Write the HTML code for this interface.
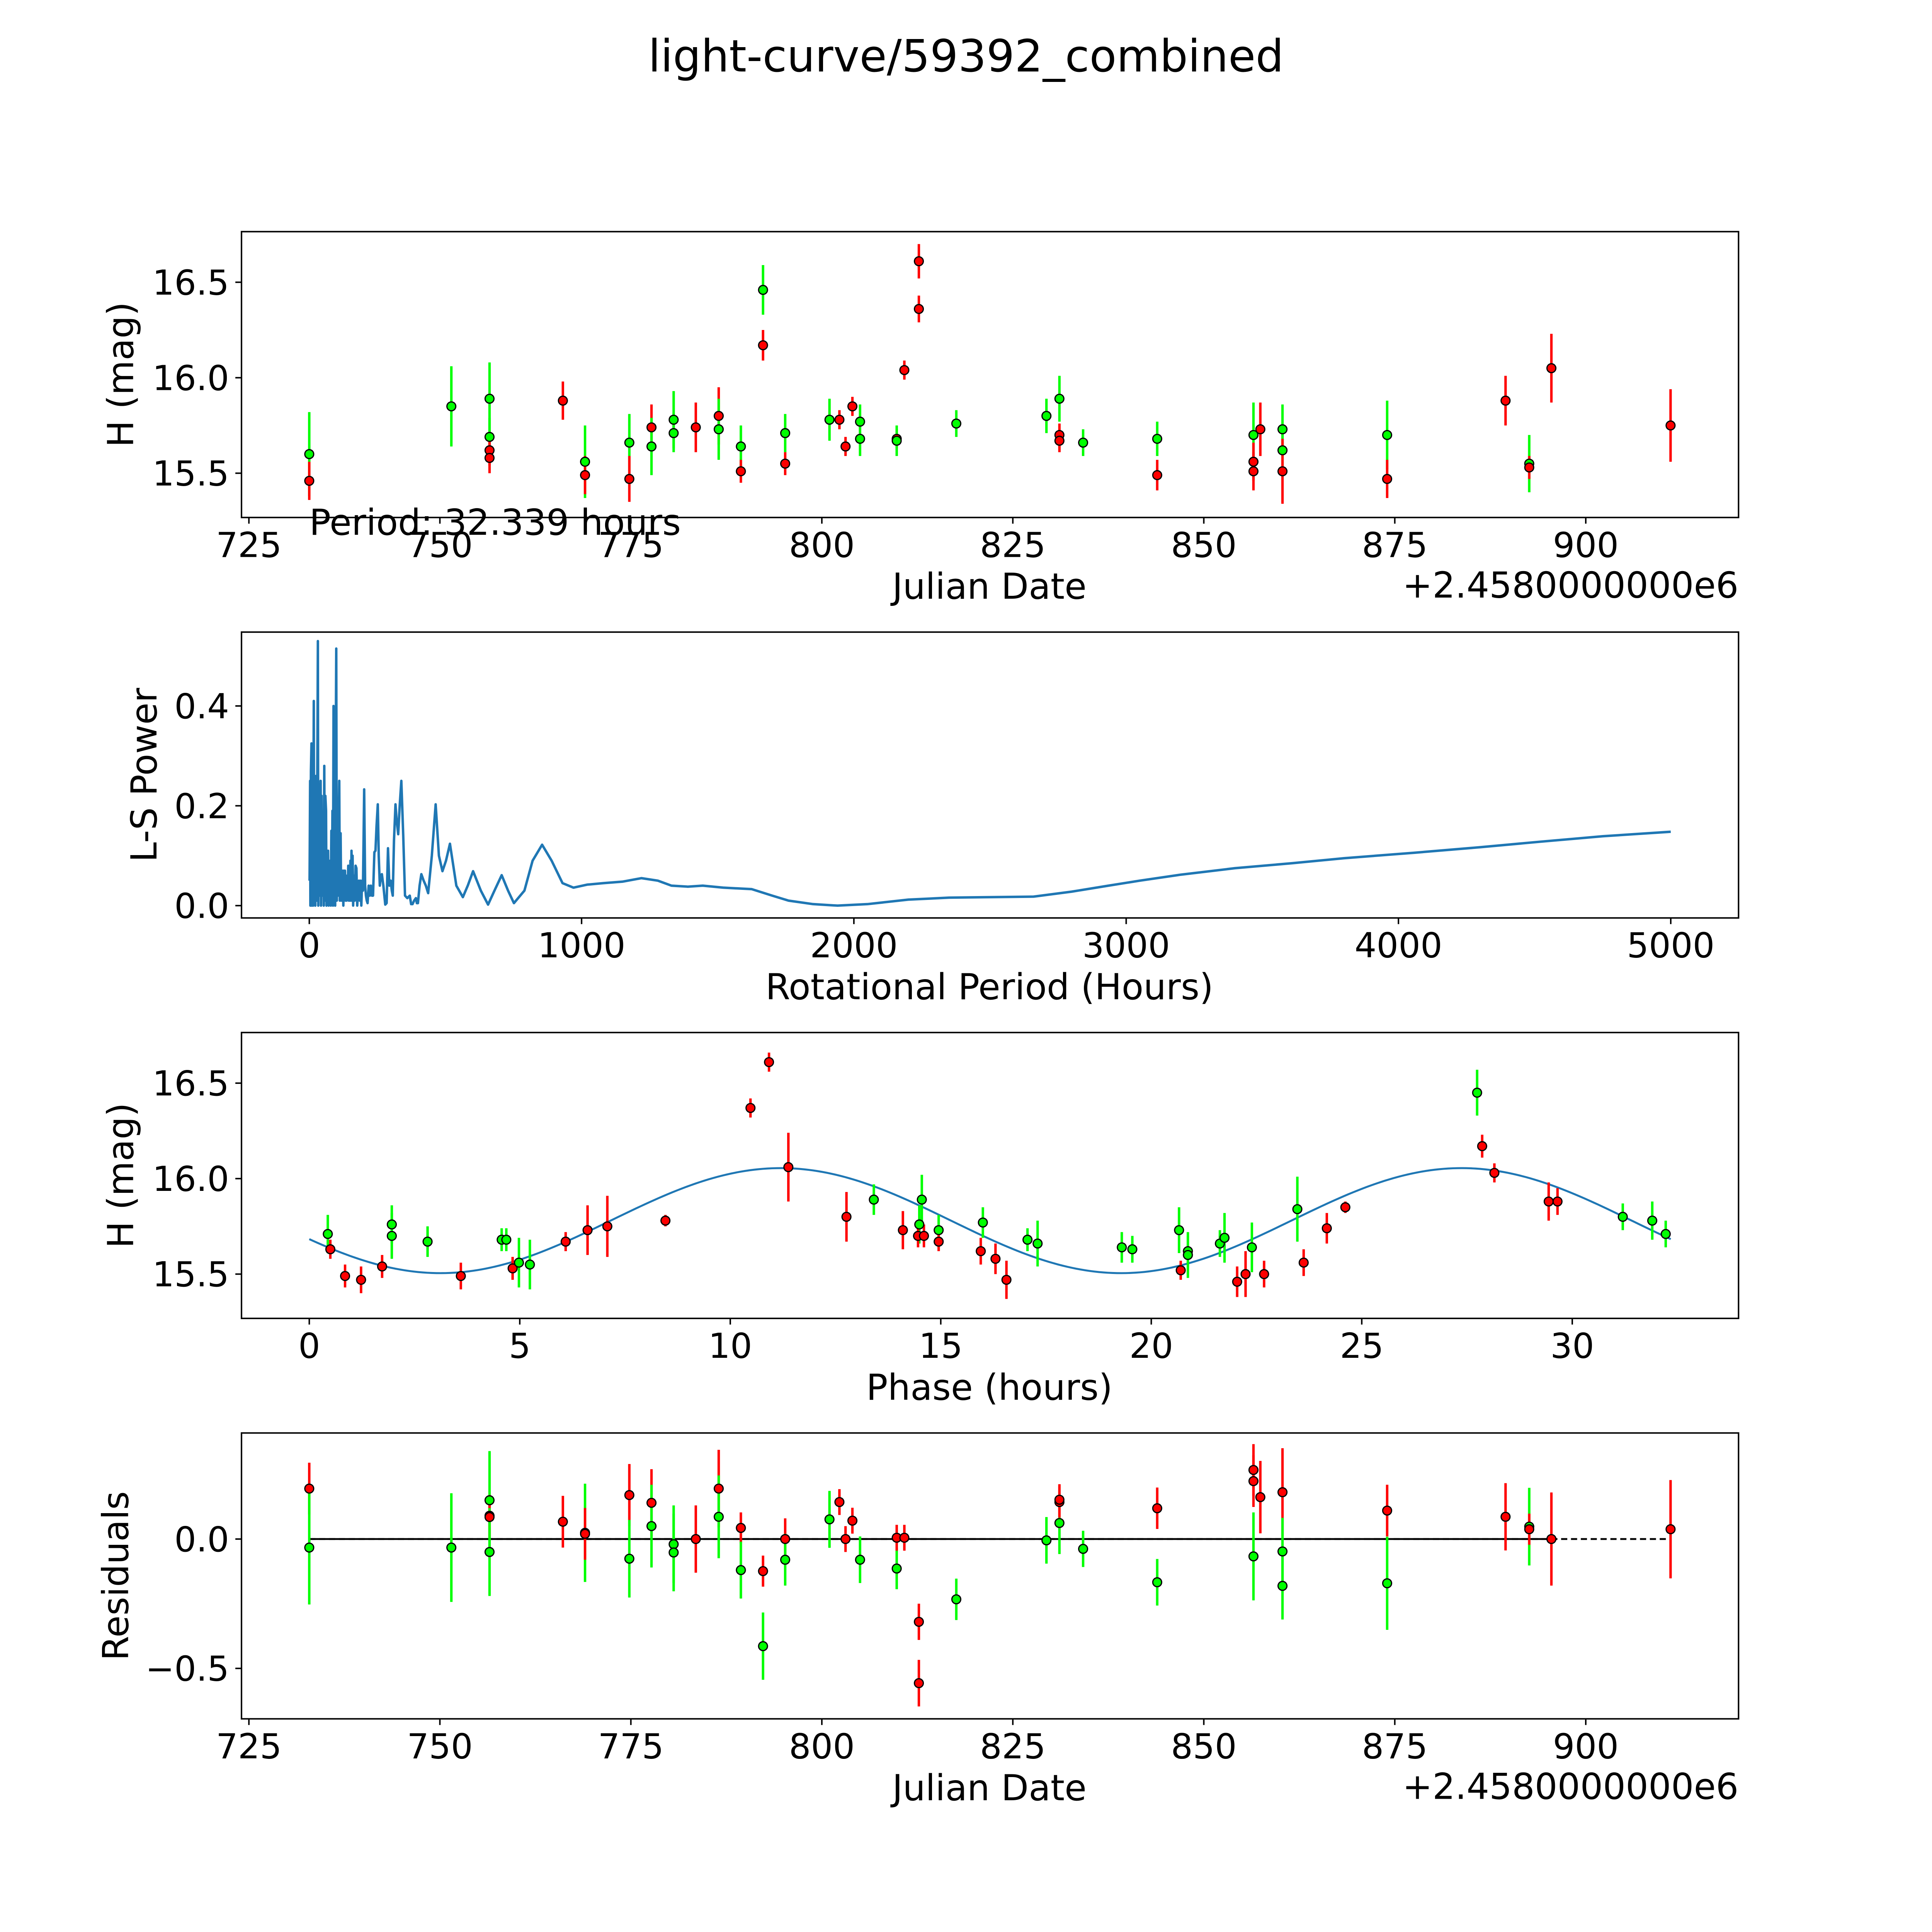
<!DOCTYPE html>
<html><head><meta charset="utf-8"><style>
html,body{margin:0;padding:0;background:#fff;overflow:hidden;width:100%;height:100%;}
svg{display:block;position:fixed;left:0;top:0;width:100vw;height:100vh;font-family:"DejaVu Sans","Liberation Sans",sans-serif;}
</style></head><body>
<svg id="fig" xmlns="http://www.w3.org/2000/svg" viewBox="0 0 1568 1568" preserveAspectRatio="none">
<rect width="1568" height="1568" fill="#fff"/>
<text x="784" y="58" font-size="36" text-anchor="middle">light-curve/59392_combined</text>
</svg>
<script>
// ---- Panel 1: light curve data ----
const jd   = [732.9,732.9,751.5,756.5,756.5,756.5,756.5,766.1,769.0,769.0,774.8,774.8,777.7,777.7,780.6,780.6,783.5,786.5,786.5,789.4,789.4,792.3,792.3,795.2,795.2,801.0,802.3,803.1,804.0,805.0,805.0,809.8,809.8,810.8,812.7,812.7,817.6,829.4,831.1,831.1,831.1,834.2,843.9,843.9,856.5,856.5,856.5,857.4,860.3,860.3,860.3,874.0,874.0,889.5,892.6,892.6,895.5,911.1];
const hmag = [15.60,15.46,15.85,15.89,15.69,15.62,15.58,15.88,15.56,15.49,15.66,15.47,15.74,15.64,15.78,15.71,15.74,15.80,15.73,15.64,15.51,16.46,16.17,15.71,15.55,15.78,15.78,15.64,15.85,15.77,15.68,15.68,15.67,16.04,16.36,16.61,15.76,15.80,15.89,15.70,15.67,15.66,15.68,15.49,15.70,15.56,15.51,15.73,15.73,15.62,15.51,15.70,15.47,15.88,15.55,15.53,16.05,15.75];
const herr = [0.22,0.10,0.21,0.19,0.10,0.08,0.08,0.10,0.19,0.10,0.15,0.12,0.12,0.15,0.15,0.10,0.13,0.15,0.16,0.11,0.06,0.13,0.08,0.10,0.06,0.11,0.05,0.05,0.05,0.09,0.09,0.05,0.08,0.05,0.07,0.09,0.07,0.09,0.12,0.06,0.06,0.07,0.09,0.08,0.17,0.10,0.10,0.14,0.13,0.13,0.17,0.18,0.10,0.13,0.15,0.06,0.18,0.19];
const band = ['g','r','g','g','g','r','r','r','g','r','g','r','r','g','g','g','r','r','g','g','r','g','r','g','r','g','r','r','r','g','g','r','g','r','r','r','g','g','g','r','r','g','g','r','g','r','r','r','g','g','r','g','r','r','g','r','r','r'];
const jdTicks = [725,750,775,800,825,850,875,900];
const magTicks = [15.5,16.0,16.5];

// ---- Panel 2: Lomb-Scargle periodogram ----
const lsPeriod = [1,3,4,6,8,9,11,12,14,16.5,
 18,20,22,24,26,28,29,31.5,33,35,
 37,39,41.5,43,45,47,49,51,53,55,
 57,59,61.5,63,65,67,69,71,73,75,
 77,79,81,83,85,87,89,91,93,95,
 97,99,101,103,105,107,110,112,113,115,
 117,119,121,123,125,127,129,131,133,135,
 137,139,141,143,145,147,149,151,153,155,
 157,159,161,164,167,170,173,176,179,182,
 185,188,191,194,197,201.5,205,208,211,214,
 218,222,226,230,234,239,243,247,251.5,255,
 259,263,266.5,272,279,284,289,294,299,303,
 306.5,311,316.5,321,326.5,332,338,345,351.5,360,
 369,374,379,385,391.5,395,399,405,411.5,420,
 428,436.5,450,464,476,489,502,516.5,540,564,
 582,601.5,630,656.5,680,706.5,730,751.5,790,820,
 855,890,930,970,1020,1080,1150,1220,1280,1330,
 1390,1445,1520,1625,1700,1760,1850,1940,2050,2200,
 2350,2500,2660,2800,2935,3050,3200,3400,3610,3800,
 4060,4300,4520,4750,5000];
const lsPower = [0.05,0.25,0,0.27,0.325,0,0.2,0.28,0,0.41,
 0.02,0.26,0,0.18,0.26,0.01,0.2,0.53,0,0.22,
 0.02,0.15,0.25,0,0.22,0.02,0.12,0.15,0,0.28,
 0.01,0.22,0.19,0,0.1,0.01,0.11,0,0.08,0.01,
 0.09,0,0.15,0.01,0.19,0,0.4,0.02,0.2,0,
 0.3,0.515,0.01,0.2,0.02,0.12,0.25,0.01,0.1,0.145,
 0.01,0.07,0.01,0.07,0,0.07,0.02,0.07,0.01,0.06,
 0.01,0.05,0.02,0.08,0.01,0.07,0.01,0.09,0.01,0.11,
 0.01,0.1,0,0.06,0.01,0.08,0.075,0,0.03,0.05,
 0.01,0.05,0,0.05,0.03,0.233,0.04,0.02,0.01,0.005,
 0.04,0.02,0.04,0.02,0.02,0.107,0.11,0.16,0.203,0.1,
 0.04,0.06,0.063,0.04,0.002,0.005,0.115,0.04,0.05,0.03,
 0.02,0.13,0.203,0.17,0.143,0.2,0.25,0.14,0.02,0.015,
 0.02,0.003,0.003,0.01,0.015,0.005,0.005,0.04,0.063,0.05,
 0.04,0.025,0.1,0.203,0.1,0.069,0.09,0.124,0.04,0.017,
 0.04,0.069,0.03,0.002,0.03,0.061,0.03,0.005,0.03,0.09,
 0.122,0.09,0.045,0.036,0.042,0.045,0.048,0.055,0.05,0.04,
 0.038,0.04,0.036,0.033,0.02,0.01,0.003,0,0.003,0.012,
 0.016,0.017,0.018,0.028,0.04,0.05,0.062,0.075,0.085,0.095,
 0.106,0.117,0.128,0.139,0.148];
const lsXTicks = [0,1000,2000,3000,4000,5000];
const lsYTicks = [0.0,0.2,0.4];

// ---- Panel 3: phased light curve ----
const phase = [0.44,0.5,0.85,1.23,1.73,1.96,1.96,2.81,3.6,4.57,4.68,4.83,4.98,5.24,6.09,6.61,7.08,8.46,10.48,10.92,11.38,12.76,13.41,14.1,14.49,14.55,14.46,14.6,14.95,14.95,15.95,16.0,16.3,16.56,17.06,17.3,19.3,19.55,20.7,20.66,20.87,20.87,21.63,21.74,22.04,22.24,22.39,22.68,23.47,23.62,24.17,24.61,27.74,27.86,28.15,29.44,29.65,31.2,31.9,32.22];
const phMag = [15.71,15.63,15.49,15.47,15.54,15.76,15.70,15.67,15.49,15.68,15.68,15.53,15.56,15.55,15.67,15.73,15.75,15.78,16.37,16.61,16.06,15.80,15.89,15.73,15.76,15.89,15.70,15.70,15.73,15.67,15.62,15.77,15.58,15.47,15.68,15.66,15.64,15.63,15.52,15.73,15.62,15.60,15.66,15.69,15.46,15.50,15.64,15.50,15.84,15.56,15.74,15.85,16.45,16.17,16.03,15.88,15.88,15.80,15.78,15.71];
const phErr = [0.1,0.05,0.06,0.07,0.06,0.1,0.12,0.08,0.07,0.06,0.06,0.06,0.13,0.13,0.05,0.13,0.16,0.03,0.05,0.05,0.18,0.13,0.08,0.1,0.1,0.13,0.06,0.06,0.08,0.05,0.07,0.08,0.08,0.1,0.06,0.12,0.08,0.07,0.05,0.12,0.08,0.12,0.07,0.13,0.08,0.12,0.13,0.07,0.17,0.07,0.08,0.03,0.12,0.06,0.05,0.1,0.07,0.07,0.1,0.07];
const phBand = ['g','r','r','r','r','g','g','g','r','g','g','r','g','g','r','r','r','r','r','r','r','r','g','r','g','g','r','r','g','r','r','g','r','r','g','g','g','g','r','g','g','g','g','g','r','r','g','r','g','r','r','r','g','r','r','r','r','g','g','g'];
const phXTicks = [0,5,10,15,20,25,30];
const modelMean = 15.78, modelAmp = 0.275, modelPeak = 11.2, modelPeriod = 16.17;

// ---- Panel 4: residuals ----
const resJd = [732.9,732.9,751.5,756.5,756.5,756.5,756.5,766.1,769.0,769.0,774.8,774.8,777.7,777.7,780.6,780.6,783.5,786.5,786.5,789.4,789.4,792.3,792.3,795.2,795.2,801.0,802.3,803.1,804.0,805.0,809.8,809.8,810.8,812.7,812.7,817.6,829.4,831.1,831.1,831.1,834.2,843.9,843.9,856.5,856.5,856.5,857.4,860.3,860.3,860.3,874.0,874.0,889.5,892.6,892.6,895.5,911.1];
const res = [0.195,-0.033,-0.033,0.15,0.09,0.085,-0.05,0.067,0.024,0.02,0.17,-0.076,0.14,0.05,-0.02,-0.052,0.0,0.195,0.086,0.043,-0.12,-0.124,-0.414,0.0,-0.08,0.076,0.143,0.0,0.071,-0.08,-0.114,0.005,0.005,-0.32,-0.557,-0.233,-0.005,0.062,0.143,0.152,-0.038,0.119,-0.167,0.267,0.224,-0.067,0.162,0.181,-0.048,-0.181,0.11,-0.171,0.086,0.048,0.038,0.0,0.038];
const resErr = [0.1,0.22,0.21,0.19,0.08,0.08,0.17,0.1,0.19,0.1,0.12,0.15,0.13,0.16,0.15,0.15,0.13,0.15,0.16,0.06,0.11,0.06,0.13,0.08,0.1,0.11,0.05,0.05,0.05,0.09,0.08,0.05,0.05,0.07,0.09,0.08,0.09,0.12,0.06,0.06,0.07,0.08,0.09,0.1,0.1,0.17,0.14,0.17,0.13,0.13,0.1,0.18,0.13,0.15,0.06,0.18,0.19];
const resBand = ['r','g','g','g','r','r','g','r','g','r','r','g','r','g','g','g','r','r','g','r','g','r','g','r','g','g','r','r','r','g','g','r','r','r','r','g','g','g','r','r','g','r','g','r','r','g','r','r','g','g','r','g','r','g','r','r','r'];
const resYTicks = [-0.5,0.0];

const NS = 'http://www.w3.org/2000/svg';
const fig = document.getElementById('fig');
const COL = {r:'#ff0000', g:'#00ff00'};
const TICK_FS = 28, LABEL_FS = 29;
function mk(tag, attrs, parent){const e=document.createElementNS(NS,tag);for(const k in attrs)e.setAttribute(k,attrs[k]);(parent||fig).appendChild(e);return e;}

function axes(name, top, x0, x1, y0, y1){
  const L=196,R=1411,T=top,B=top+232;
  return {name,L,R,T,B,
    sx:v=>L+(v-x0)/(x1-x0)*(R-L),
    sy:v=>B-(v-y0)/(y1-y0)*(B-T)};
}
function frame(ax, xt, yt, fmtX, fmtY, xlabel, ylabel, ylx){
  const g = mk('g',{});
  
  
  const box = mk('rect',{x:ax.L,y:ax.T,width:ax.R-ax.L,height:ax.B-ax.T,fill:'none',stroke:'#000','stroke-width':1.2},g);
  
  
  xt.forEach(v=>{const x=ax.sx(v);
    mk('line',{x1:x,x2:x,y1:ax.B,y2:ax.B+5,stroke:'#000','stroke-width':1.2},g);
    const t=mk('text',{x:x,y:ax.B+32,'font-size':TICK_FS,'text-anchor':'middle'},g);
    
    
    t.textContent=fmtX(v);});
  yt.forEach(v=>{const y=ax.sy(v);
    mk('line',{x1:ax.L-5,x2:ax.L,y1:y,y2:y,stroke:'#000','stroke-width':1.2},g);
    const t=mk('text',{x:ax.L-10,y:y+10,'font-size':TICK_FS,'text-anchor':'end'},g);
    
    
    t.textContent=fmtY(v);});
  const xl=mk('text',{x:803,y:ax.B+66,'font-size':LABEL_FS,'text-anchor':'middle'},g);
  
  
  xl.textContent=xlabel;
  const cy=(ax.T+ax.B)/2;
  const yl=mk('text',{x:ylx,y:cy,'font-size':LABEL_FS,'text-anchor':'middle',transform:`rotate(-90 ${ylx} ${cy})`},g);
  
  
  yl.textContent=ylabel;
}
function points(ax, xs, ys, es, bs, name){
  const g=mk('g',{});
  
  
  xs.forEach((v,i)=>{const x=ax.sx(v);
    const l=mk('line',{x1:x,x2:x,y1:ax.sy(ys[i]-es[i]),y2:ax.sy(ys[i]+es[i]),stroke:COL[bs[i]],'stroke-width':2},g);
    
    });
  xs.forEach((v,i)=>{
    const c=mk('circle',{cx:ax.sx(v),cy:ax.sy(ys[i]),r:3.6,fill:COL[bs[i]],stroke:'#000','stroke-width':1},g);
    
    });
}
const fmt1=v=>v.toFixed(1);
const fmt0=v=>String(v);
const fmtNeg=v=>(v<0?'\u2212':'')+Math.abs(v).toFixed(1);

// Panel 1
const a1=axes('light-curve',188,724.03,920.0,15.268,16.765);
frame(a1,jdTicks,magTicks,fmt0,fmt1,'Julian Date','H (mag)',108);
points(a1,jd,hmag,herr,band,'light-curve');
let off=mk('text',{x:1411,y:485,'font-size':LABEL_FS,'text-anchor':'end'});


off.textContent='+2.4580000000e6';
let per=mk('text',{x:251,y:434,'font-size':LABEL_FS});


per.textContent='Period: 32.339 hours';

// Panel 2
const a2=axes('periodogram',513,-249,5249,-0.0247,0.548);
frame(a2,lsXTicks,lsYTicks,fmt0,fmt1,'Rotational Period (Hours)','L-S Power',127);
const lsPts=lsPeriod.map((p,i)=>a2.sx(p).toFixed(2)+','+a2.sy(lsPower[i]).toFixed(2)).join(' ');
const lsLine=mk('polyline',{points:lsPts,fill:'none',stroke:'#1f77b4','stroke-width':2,'stroke-linejoin':'round'});



// Panel 3
const a3=axes('phased',838,-1.61,33.95,15.268,16.765);
frame(a3,phXTicks,magTicks,fmt0,fmt1,'Phase (hours)','H (mag)',108);
const mp=[];
for(let i=0;i<=300;i++){const x=32.339*i/300;
  mp.push(a3.sx(x).toFixed(2)+','+a3.sy(modelMean+modelAmp*Math.cos(2*Math.PI*(x-modelPeak)/modelPeriod)).toFixed(2));}
const model=mk('polyline',{points:mp.join(' '),fill:'none',stroke:'#1f77b4','stroke-width':1.6});


points(a3,phase,phMag,phErr,phBand,'phased');

// Panel 4
const a4=axes('residuals',1163,724.03,920.0,-0.695,0.41);
frame(a4,jdTicks,resYTicks,fmt0,fmtNeg,'Julian Date','Residuals',104);
const zl=mk('line',{x1:a4.sx(732.9),x2:a4.sx(911.1),y1:a4.sy(0),y2:a4.sy(0),stroke:'#000','stroke-width':1.5,'stroke-dasharray':'5,3'});


const zs=mk('line',{x1:a4.sx(732.9),x2:a4.sx(895.5),y1:a4.sy(0),y2:a4.sy(0),stroke:'#000','stroke-width':1.5});


points(a4,resJd,res,resErr,resBand,'residuals');
off=mk('text',{x:1411,y:1460,'font-size':LABEL_FS,'text-anchor':'end'});


off.textContent='+2.4580000000e6';
</script>
</body></html>
